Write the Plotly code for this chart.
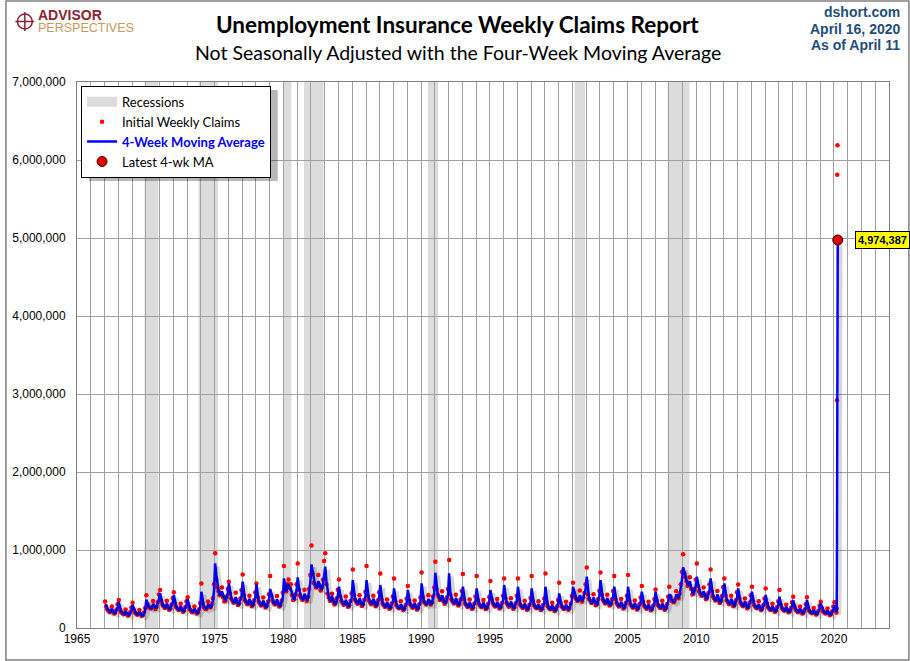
import pandas as pd
import plotly.graph_objects as go

# initial weekly claims (NSA), thousands, one row per year, Jan..Dec
claims_1960s = [
    [340, 275, 236, 220, 203, 214, 275, 207, 185, 198, 236, 304],  # 1967
    [360, 238, 205, 191, 176, 185, 238, 179, 160, 172, 205, 263],  # 1968
    [325, 232, 200, 186, 171, 181, 232, 175, 156, 167, 200, 257],  # 1969
]
claims_1970s = [
    [420, 300, 265, 262, 250, 265, 345, 270, 245, 270, 330, 430],
    [487, 350, 300, 280, 256, 270, 348, 262, 234, 250, 300, 385],
    [457, 311, 268, 250, 230, 242, 311, 235, 209, 224, 268, 344],
    [393, 275, 236, 220, 203, 214, 275, 207, 185, 198, 240, 320],
    [572, 320, 270, 255, 240, 260, 340, 280, 265, 305, 385, 560],
    [957, 620, 520, 470, 420, 430, 520, 390, 340, 345, 400, 500],
    [594, 440, 378, 353, 324, 342, 452, 331, 295, 317, 378, 486],
    [687, 415, 357, 333, 306, 323, 415, 313, 279, 299, 357, 459],
    [570, 390, 336, 314, 288, 304, 390, 294, 262, 282, 336, 432],
    [666, 409, 352, 328, 302, 318, 409, 308, 275, 295, 352, 452],
]
claims_1980s = [
    [794, 480, 470, 560, 623, 520, 560, 420, 360, 370, 430, 560],
    [828, 490, 420, 390, 360, 380, 490, 380, 350, 400, 500, 680],
    [1059, 700, 580, 560, 520, 540, 680, 540, 480, 520, 620, 860],
    [957, 560, 440, 390, 350, 355, 440, 340, 300, 320, 380, 490],
    [623, 403, 347, 323, 297, 314, 403, 304, 271, 290, 347, 446],
    [751, 421, 362, 338, 311, 328, 421, 317, 283, 304, 362, 466],
    [794, 415, 357, 333, 306, 323, 415, 313, 279, 299, 357, 459],
    [700, 366, 315, 294, 270, 285, 366, 276, 246, 264, 315, 405],
    [636, 342, 294, 274, 252, 266, 342, 258, 230, 246, 294, 378],
    [538, 354, 305, 284, 261, 276, 354, 267, 238, 255, 305, 392],
]
claims_1990s = [
    [713, 390, 336, 320, 300, 320, 420, 330, 300, 330, 400, 520],
    [850, 500, 430, 400, 360, 375, 470, 350, 310, 330, 390, 500],
    [871, 430, 368, 343, 315, 333, 427, 322, 287, 308, 368, 473],
    [692, 366, 315, 294, 270, 285, 366, 276, 246, 264, 315, 405],
    [666, 360, 310, 289, 266, 280, 360, 271, 242, 260, 310, 398],
    [602, 372, 320, 299, 275, 290, 372, 281, 250, 268, 320, 412],
    [636, 380, 325, 302, 272, 288, 380, 278, 248, 270, 318, 415],
    [636, 348, 299, 279, 257, 271, 348, 262, 234, 251, 299, 385],
    [666, 342, 294, 274, 252, 266, 342, 258, 230, 246, 294, 378],
    [700, 323, 278, 260, 239, 252, 323, 244, 217, 233, 278, 358],
]
claims_2000s = [
    [581, 323, 278, 262, 242, 258, 335, 256, 235, 255, 310, 410],
    [581, 440, 390, 370, 345, 370, 480, 365, 340, 390, 450, 560],
    [777, 433, 373, 348, 320, 337, 433, 327, 291, 312, 373, 479],
    [713, 427, 368, 343, 315, 333, 427, 322, 287, 308, 368, 473],
    [666, 372, 320, 299, 275, 290, 372, 281, 250, 268, 320, 412],
    [679, 354, 305, 284, 261, 276, 354, 267, 238, 255, 305, 392],
    [538, 336, 289, 270, 248, 261, 336, 253, 226, 242, 289, 371],
    [495, 348, 299, 279, 257, 271, 348, 262, 234, 255, 305, 400],
    [529, 400, 350, 340, 330, 360, 470, 400, 380, 440, 560, 720],
    [944, 700, 650, 600, 540, 560, 650, 500, 430, 440, 500, 620],
]
claims_2010s = [
    [828, 540, 470, 440, 410, 420, 520, 420, 370, 390, 450, 560],
    [751, 475, 410, 382, 351, 370, 475, 359, 320, 343, 410, 526],
    [636, 415, 357, 333, 306, 323, 415, 313, 279, 300, 357, 459],
    [559, 378, 326, 304, 279, 295, 378, 285, 254, 273, 326, 419],
    [529, 342, 294, 274, 252, 266, 342, 258, 230, 246, 294, 378],
    [508, 311, 268, 250, 230, 242, 311, 235, 209, 224, 268, 344],
    [487, 299, 257, 240, 221, 233, 299, 225, 201, 216, 257, 331],
    [401, 275, 236, 220, 203, 214, 275, 207, 185, 198, 236, 304],
    [393, 256, 221, 206, 189, 200, 256, 193, 172, 185, 221, 284],
    [337, 250, 215, 201, 185, 195, 250, 189, 168, 180, 215, 277],
]

# 4-week moving average, thousands, one row per year, Jan..Dec
ma_1960s = [
    [300, 292, 248, 220, 207, 207, 248, 225, 194, 191, 218, 259],
    [335, 254, 215, 191, 179, 179, 215, 195, 168, 166, 189, 224],
    [295, 247, 209, 186, 175, 175, 209, 190, 163, 162, 184, 219],
]
ma_1970s = [
    [365, 320, 280, 265, 255, 258, 310, 290, 260, 265, 305, 370],
    [444, 370, 314, 280, 262, 262, 314, 285, 245, 242, 276, 328],
    [423, 332, 281, 250, 235, 235, 281, 255, 219, 217, 247, 293],
    [367, 292, 248, 220, 207, 207, 248, 225, 194, 193, 222, 270],
    [465, 340, 285, 262, 248, 255, 300, 290, 270, 285, 350, 470],
    [828, 680, 550, 480, 430, 425, 470, 420, 360, 345, 380, 450],
    [572, 468, 396, 353, 331, 331, 396, 360, 310, 306, 349, 414],
    [594, 442, 374, 333, 313, 313, 374, 340, 292, 289, 330, 391],
    [560, 416, 352, 314, 294, 294, 352, 320, 275, 272, 310, 368],
    [500, 436, 369, 328, 308, 308, 369, 335, 288, 285, 325, 385],
]
ma_1980s = [
    [636, 520, 470, 530, 560, 500, 500, 450, 380, 370, 410, 490],
    [649, 520, 440, 392, 368, 368, 440, 405, 360, 380, 460, 580],
    [816, 720, 600, 560, 530, 520, 600, 570, 510, 500, 560, 700],
    [786, 600, 470, 400, 360, 355, 410, 370, 320, 310, 345, 420],
    [529, 429, 363, 323, 304, 304, 363, 330, 284, 281, 320, 380],
    [615, 449, 380, 338, 317, 317, 380, 345, 297, 293, 335, 397],
    [615, 442, 374, 333, 313, 313, 374, 340, 292, 289, 330, 391],
    [551, 390, 330, 294, 276, 276, 330, 300, 258, 255, 291, 345],
    [508, 364, 308, 274, 258, 258, 308, 280, 241, 238, 272, 322],
    [487, 377, 319, 284, 267, 267, 319, 290, 249, 247, 281, 334],
]
ma_1990s = [
    [572, 416, 352, 322, 305, 310, 370, 350, 310, 315, 370, 450],
    [709, 530, 450, 405, 370, 365, 420, 380, 325, 320, 360, 430],
    [700, 455, 385, 343, 322, 322, 385, 350, 301, 298, 340, 403],
    [529, 390, 330, 294, 276, 276, 330, 300, 258, 255, 291, 345],
    [508, 384, 325, 289, 271, 271, 325, 295, 254, 251, 286, 339],
    [487, 397, 336, 299, 281, 281, 336, 305, 262, 259, 296, 351],
    [551, 400, 340, 302, 280, 282, 340, 303, 262, 258, 298, 352],
    [529, 371, 314, 279, 262, 262, 314, 285, 245, 242, 276, 328],
    [508, 364, 308, 274, 258, 258, 308, 280, 241, 238, 272, 322],
    [529, 345, 292, 260, 244, 244, 292, 265, 228, 225, 257, 305],
]
ma_2000s = [
    [444, 345, 292, 262, 246, 248, 300, 275, 240, 245, 285, 350],
    [529, 460, 400, 370, 350, 355, 420, 390, 350, 380, 430, 500],
    [658, 462, 391, 348, 327, 327, 391, 355, 305, 302, 344, 408],
    [615, 455, 385, 343, 322, 322, 385, 350, 301, 298, 340, 403],
    [529, 397, 336, 299, 281, 281, 336, 305, 262, 259, 296, 351],
    [529, 377, 319, 284, 267, 267, 319, 290, 249, 247, 281, 334],
    [465, 358, 303, 270, 253, 253, 303, 275, 237, 234, 267, 316],
    [465, 371, 314, 279, 262, 262, 314, 285, 245, 245, 280, 335],
    [423, 420, 365, 345, 335, 350, 420, 420, 390, 420, 510, 620],
    [777, 720, 660, 610, 560, 550, 600, 530, 460, 440, 470, 540],
]
ma_2010s = [
    [658, 570, 490, 450, 420, 415, 470, 440, 385, 380, 420, 480],
    [636, 507, 429, 382, 359, 359, 429, 390, 335, 332, 378, 449],
    [572, 442, 374, 333, 313, 313, 374, 340, 292, 289, 330, 391],
    [508, 403, 341, 304, 285, 285, 341, 310, 267, 264, 301, 357],
    [465, 364, 308, 274, 258, 258, 308, 280, 241, 238, 272, 322],
    [423, 332, 281, 250, 235, 235, 281, 255, 219, 217, 247, 293],
    [401, 319, 270, 240, 225, 225, 270, 245, 211, 208, 238, 282],
    [359, 292, 248, 220, 207, 207, 248, 225, 194, 191, 218, 259],
    [359, 273, 231, 206, 193, 193, 231, 210, 181, 179, 204, 242],
    [316, 267, 226, 201, 189, 189, 226, 205, 176, 174, 199, 236],
]

# 2020 so far
dates_2020 = ["2020-01-15", "2020-02-15", "2020-03-07", "2020-03-14",
              "2020-03-21", "2020-03-28", "2020-04-04", "2020-04-11"]
claims_2020 = [329, 230, 200, 251, 2920, 5810, 6190, 4970]
ma_2020 = [295, 240, 210, 225, 903, 2300, 3790, 4974.387]

latest_date = "2020-04-11"
latest_ma = 4974387

recession_start = ["1969-12-01", "1973-11-01", "1980-01-01", "1981-07-01",
                   "1990-07-01", "2001-03-01", "2007-12-01"]
recession_end = ["1970-11-30", "1975-03-31", "1980-07-31", "1982-11-30",
                 "1991-03-31", "2001-11-30", "2009-06-30"]

# flatten monthly rows -> dates + values
claim_rows = claims_1960s + claims_1970s + claims_1980s + claims_1990s + claims_2000s + claims_2010s
ma_rows = ma_1960s + ma_1970s + ma_1980s + ma_1990s + ma_2000s + ma_2010s

dates, claims, ma = [], [], []
for i, (crow, mrow) in enumerate(zip(claim_rows, ma_rows)):
    year = 1967 + i
    for m in range(12):
        dates.append(pd.Timestamp(year, m + 1, 15))
        claims.append(crow[m] * 1000)
        ma.append(mrow[m] * 1000)
dates += [pd.Timestamp(d) for d in dates_2020]
claims += [v * 1000 for v in claims_2020]
ma += [v * 1000 for v in ma_2020]

fig = go.Figure()

# legend entry for recessions
fig.add_trace(go.Scatter(x=[None], y=[None], mode="lines", name="Recessions",
                         line=dict(color="#DCDCDC", width=10)))
fig.add_trace(go.Scatter(x=dates, y=claims, mode="markers", name="Initial Weekly Claims",
                         marker=dict(color="#FF0000", size=4.5)))
# drop shadow of the MA line, drawn on slightly offset twin axes
fig.add_trace(go.Scatter(x=dates, y=ma, mode="lines", showlegend=False, hoverinfo="skip",
                         line=dict(color="rgba(0,0,0,0.16)", width=3.5),
                         xaxis="x2", yaxis="y2"))
fig.add_trace(go.Scatter(x=dates, y=ma, mode="lines",
                         name="<b><span style='color:#0000FF'>4-Week Moving Average</span></b>",
                         line=dict(color="#0000FF", width=2.5)))
fig.add_trace(go.Scatter(x=[latest_date], y=[latest_ma], mode="markers", name="Latest 4-wk MA",
                         marker=dict(color="#E00000", size=10, line=dict(color="#400000", width=1))))

for s, e in zip(recession_start, recession_end):
    fig.add_shape(type="rect", xref="x", yref="paper", x0=s, x1=e, y0=0, y1=1,
                  fillcolor="#DCDCDC", line_width=0, layer="below")

fig.add_annotation(x=latest_date, y=latest_ma, text="<b>{:,}</b>".format(latest_ma),
                   showarrow=False, xanchor="left", xshift=17,
                   bgcolor="#FFFF00", bordercolor="#000000", borderwidth=1, borderpad=2,
                   font=dict(family="Arial", size=11, color="#000000"))

# titles and header text
W = 817.0
H = 546.0
fig.add_annotation(xref="paper", yref="paper", x=(455 - 72) / W, y=1 + (82 - 25) / H,
                   text="<b>Unemployment Insurance Weekly Claims Report</b>", showarrow=False,
                   font=dict(family="Lato", size=22.5, color="#000000"), yanchor="middle")
fig.add_annotation(xref="paper", yref="paper", x=(455 - 72) / W, y=1 + (82 - 53) / H,
                   text="Not Seasonally Adjusted with the Four-Week Moving Average", showarrow=False,
                   font=dict(family="Lato", size=19.5, color="#000000"), yanchor="middle")
for txt, py in [("dshort.com", 12), ("April 16, 2020", 29), ("As of April 11", 45)]:
    fig.add_annotation(xref="paper", yref="paper", x=(902 - 72) / W, y=1 + (82 - py) / H,
                       text="<b>" + txt + "</b>", showarrow=False, xanchor="right", yanchor="middle",
                       font=dict(family="Liberation Sans Narrow, Arial", size=14, color="#1F4E79"))
fig.add_annotation(xref="paper", yref="paper", x=(31 - 72) / W, y=1 + (82 - 21) / H,
                   text="<span style='color:#8B2332;font-size:14px'><b>ADVISOR</b></span><br>"
                        "<span style='color:#C49A5A;font-size:12.5px'>PERSPECTIVES</span>",
                   showarrow=False, xanchor="left", yanchor="middle", align="left",
                   font=dict(family="Liberation Sans Narrow, Arial", size=9.5))
fig.add_shape(type="circle", xref="paper", yref="paper",
              x0=(12 - 72) / W, x1=(27 - 72) / W, y0=1 + (82 - 29) / H, y1=1 + (82 - 14) / H,
              line=dict(color="#8B2332", width=1.5))
fig.add_shape(type="line", xref="paper", yref="paper",
              x0=(19.5 - 72) / W, x1=(19.5 - 72) / W, y0=1 + (82 - 31) / H, y1=1 + (82 - 12) / H,
              line=dict(color="#8B2332", width=1.5))
fig.add_shape(type="line", xref="paper", yref="paper",
              x0=(10 - 72) / W, x1=(29 - 72) / W, y0=1 + (82 - 21.5) / H, y1=1 + (82 - 21.5) / H,
              line=dict(color="#8B2332", width=1.5))
# legend drop shadow
fig.add_shape(type="rect", xref="paper", yref="paper",
              x0=(84 - 72) / W, x1=(274 - 72) / W, y0=1 - (181 - 82) / H, y1=1 - (90 - 82) / H,
              fillcolor="rgba(0,0,0,0.28)", line_width=0, layer="above")
# outer frame
fig.add_shape(type="rect", xref="paper", yref="paper",
              x0=-71.5 / W, x1=(909 - 72) / W, y0=-(660 - 82 - H) / H, y1=1 + 81 / H,
              line=dict(color="#808080", width=1.5))

fig.update_layout(
    width=910, height=661,
    margin=dict(l=72, r=21, t=82, b=33),
    paper_bgcolor="white", plot_bgcolor="white",
    showlegend=True,
    legend=dict(x=0.005, y=0.993, xanchor="left", yanchor="top",
                bgcolor="white", bordercolor="#000000", borderwidth=1,
                font=dict(family="Lato", size=13, color="#000000"), tracegroupgap=0),
    font=dict(family="Arial", size=12, color="#000000"),
    # twin axes shifted ~3px right and down, used only for the shadow
    xaxis2=dict(type="date", overlaying="x", visible=False,
                range=["1964-10-14", "2023-10-14"]),
    yaxis2=dict(overlaying="y", visible=False, range=[38000, 7038000]),
)
fig.update_layout(xaxis=dict(type="date", range=["1965-01-01", "2024-01-01"],
                             tick0="1965-01-01", dtick="M60", tickformat="%Y",
                             showgrid=True, gridcolor="#A0A0A0", gridwidth=1,
                             minor=dict(dtick="M12", tick0="1965-01-01", showgrid=True,
                                        gridcolor="#A0A0A0", gridwidth=1),
                             showline=True, linecolor="#808080", mirror=True, ticks="",
                             zeroline=False, tickfont=dict(family="Arial", size=12)),
                  yaxis=dict(range=[0, 7000000], dtick=1000000, tickformat=",",
                             showgrid=True, gridcolor="#A0A0A0", gridwidth=1,
                             showline=True, linecolor="#808080", mirror=True, zeroline=False,
                             ticks="", ticklabelstandoff=8,
                             tickfont=dict(family="Arial", size=12)))

fig.write_html("out.html", config={"displayModeBar": False},
               post_script="document.body.style.margin='0px';")
